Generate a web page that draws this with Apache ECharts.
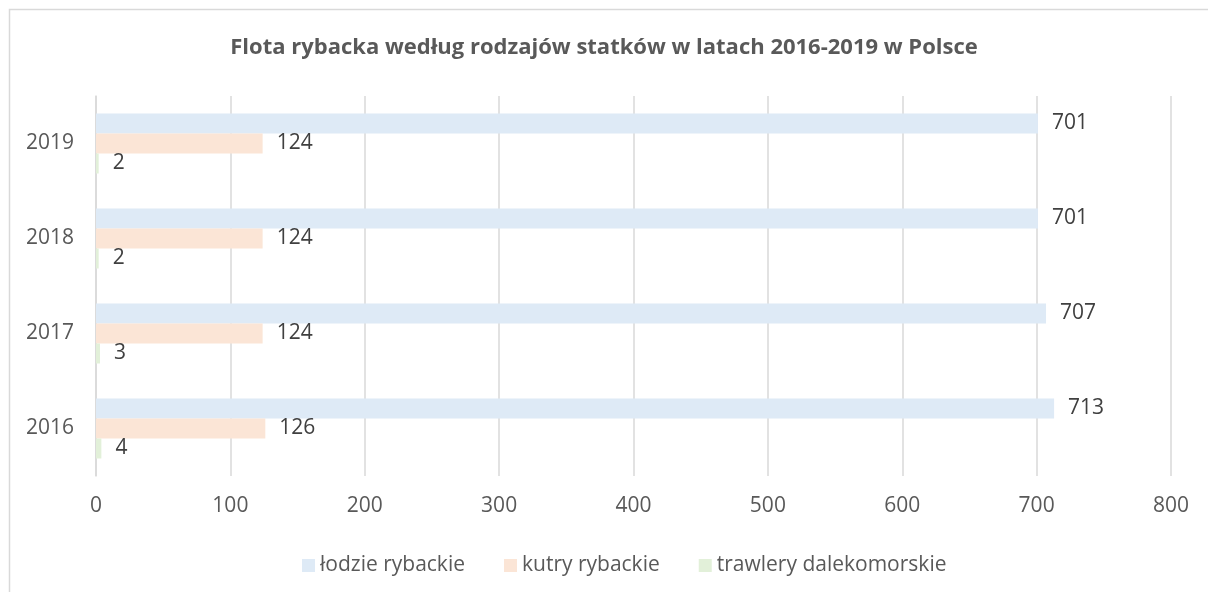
<!DOCTYPE html>
<html><head><meta charset="utf-8">
<script src="https://cdn.jsdelivr.net/npm/echarts@6/dist/echarts.min.js"></script>
<style>html,body{margin:0;padding:0;background:#fff}#c{width:1208px;height:592px}</style>
</head><body><div id="c"></div>
<script>
const title = 'Flota rybacka według rodzajów statków w latach 2016-2019 w Polsce';
const categories = ['2016', '2017', '2018', '2019'];
const seriesNames = ['łodzie rybackie', 'kutry rybackie', 'trawlery dalekomorskie'];
const lodzie = [713, 707, 701, 701];
const kutry = [126, 124, 124, 124];
const trawlery = [4, 3, 2, 2];
const colors = ['#DEEAF6', '#FBE5D6', '#E2F0D9'];

const font = '"Open Sans", sans-serif';
const chart = echarts.init(document.getElementById('c'));
const mk = (name, data, color) => ({
  name, type: 'bar', data, barWidth: 20, barGap: '0%',
  itemStyle: { color },
  label: { show: true, position: 'right', distance: 14, color: '#404040', fontSize: 21, fontFamily: font },
  emphasis: { disabled: true }
});
chart.setOption({
  animation: false,
  graphic: [{ type: 'rect', shape: { x: 9.5, y: 9.5, width: 1300, height: 700 }, style: { fill: 'none', stroke: '#d9d9d9', lineWidth: 1.5 }, silent: true }],
  title: { text: title, left: 'center', top: 32, textStyle: { color: '#595959', fontSize: 22, fontWeight: 'bold', fontFamily: font } },
  legend: {
    data: seriesNames, top: 550, left: 297, itemWidth: 13, itemHeight: 13, itemGap: 39,
    icon: 'rect',
    textStyle: { color: '#595959', fontSize: 21, fontFamily: font }
  },
  grid: { left: 96, right: 37, top: 96, bottom: 116, containLabel: false },
  xAxis: {
    type: 'value', min: 0, max: 800, interval: 100,
    axisLine: { show: false }, axisTick: { show: false },
    splitLine: { show: true, lineStyle: { color: '#d9d9d9', width: 1.5 } },
    axisLabel: { color: '#595959', fontSize: 21, fontFamily: font, margin: 20 }
  },
  yAxis: {
    type: 'category', data: categories,
    axisLine: { show: true, lineStyle: { color: '#d9d9d9', width: 1.5 } }, axisTick: { show: false },
    axisLabel: { color: '#595959', fontSize: 21, fontFamily: font, margin: 22 }
  },
  series: [mk(seriesNames[0], lodzie, colors[0]), mk(seriesNames[1], kutry, colors[1]), mk(seriesNames[2], trawlery, colors[2])]
});
</script></body></html>
